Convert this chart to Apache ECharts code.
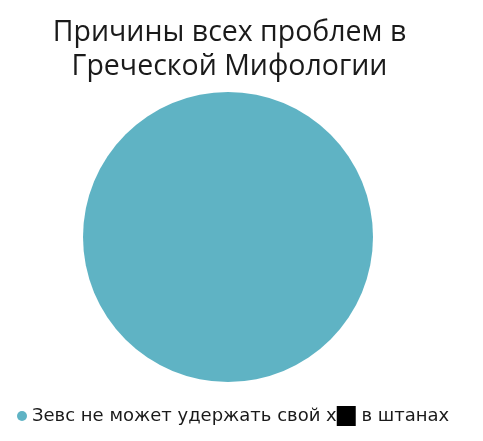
<!DOCTYPE html>
<html><head><meta charset="utf-8">
<script src="https://cdn.jsdelivr.net/npm/echarts@6/dist/echarts.min.js"></script>
<style>html,body{margin:0;padding:0;background:#fff}#c{width:483px;height:441px}</style>
</head><body><div id="c"></div>
<script>
const titleText = "Причины всех проблем в\nГреческой Мифологии";
const categories = ["Зевс не может удержать свой х█ в штанах"];
const values = [100];

const chart = echarts.init(document.getElementById('c'), null, {renderer: 'canvas'});
chart.setOption({
  backgroundColor: '#ffffff',
  animation: false,
  color: ['#5fb3c4'],
  title: {
    text: titleText,
    left: 224.5, top: 10.5, textAlign: 'center',
    textStyle: {fontFamily: 'Open Sans', fontSize: 28.5, fontWeight: 'normal', color: '#1a1a1a', lineHeight: 34}
  },
  legend: {
    left: 12, top: 401,
    icon: 'circle', itemWidth: 10, itemHeight: 10, itemGap: 10,
    formatter: function (name) {
      return name.split('█').join('{blk|}');
    },
    textStyle: {
      fontFamily: 'DejaVu Sans', fontSize: 18, color: '#1a1a1a',
      rich: {
        blk: {backgroundColor: '#000000', width: 19, height: 20, padding: 0}
      }
    },
    data: categories
  },
  series: [{
    type: 'pie',
    center: [228, 237],
    radius: [0, 145],
    label: {show: false},
    labelLine: {show: false},
    silent: true,
    data: categories.map((c, i) => ({name: c, value: values[i]}))
  }]
});
</script></body></html>
